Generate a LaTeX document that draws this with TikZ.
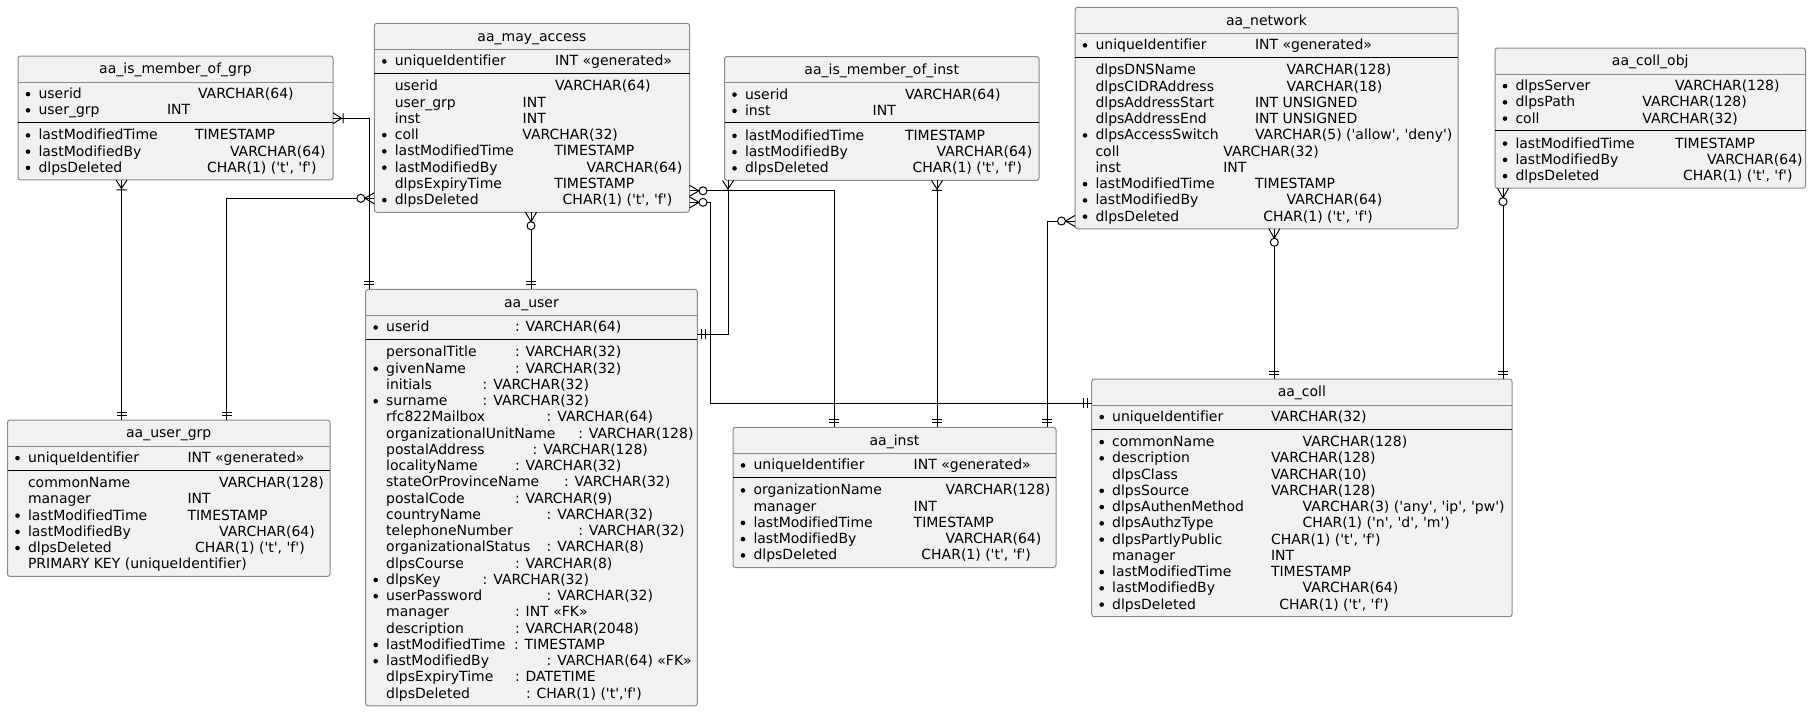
\documentclass[tikz,border=0pt]{standalone}
\usepackage{fontspec}
\newfontfamily\erfont{DejaVu Sans}[Ligatures=NoCommon]
\usetikzlibrary{calc,decorations.markings}

\definecolor{erfill}{HTML}{F1F1F1}
\definecolor{erborder}{HTML}{8A8A8A}

\newcount\errow

% crow's foot end symbols, drawn along the connector (x points away from the table)
\newcommand\erone{\draw[erm] (4.5,-5) -- (4.5,5) (8,-5) -- (8,5);}
\newcommand\ermanyone{\draw[erm] (0,-5.5) -- (8.5,0) -- (0,5.5) (10,-5) -- (10,5);}
\newcommand\ermanyzero{\draw[erm] (0,-5.5) -- (9.5,0) -- (0,5.5);
  \draw[erm,fill=white] (13.5,0) circle[radius=4pt];}

\tikzset{
  tbl/.style={draw=erborder, fill=erfill, rounded corners=2.5pt, line width=1pt,
    inner sep=0pt, outer sep=0pt},
  txt/.style={font=\erfont\fontsize{14}{16}\selectfont, inner sep=0pt, outer sep=0pt,
    anchor=base west},
  hline/.style={draw=erborder, line width=1pt},
  sline/.style={draw=black, line width=1pt},
  conn/.style={draw=black, line width=1pt},
  erm/.style={draw=black, line width=1pt},
  start one/.style={postaction={decorate,decoration={markings,
    mark=at position 0 with {\erone}}}},
  start many1/.style={postaction={decorate,decoration={markings,
    mark=at position 0 with {\ermanyone}}}},
  start many0/.style={postaction={decorate,decoration={markings,
    mark=at position 0 with {\ermanyzero}}}},
  end one/.style={postaction={decorate,decoration={markings,
    mark=at position 1 with {\begin{scope}[xscale=-1]\erone\end{scope}}}}},
}

% table frame: #1 name, #2 title, #3 left, #4 top, #5 right, #6 number of rows
\newcommand\ertable[6]{%
  \pgfmathsetmacro\erw{#5-#3}%
  \pgfmathsetmacro\erh{75.2+(#6-2)*16.25}%
  \node[tbl, anchor=north west, minimum width=\erw pt, minimum height=\erh pt] (#1) at (#3,#4) {};
  \node[txt, anchor=base] (#1-title) at ({(#3+#5)/2},#4+17.8) {#2};
  \draw[hline] (#3,#4+26) -- (#5,#4+26);
  \xdef\ertn{#1}\xdef\erxl{#3}\xdef\erxr{#5}%
  \pgfmathsetmacro\ertmp{#4+42.5}\xdef\ercy{\ertmp}%
  \global\errow=0 }

% field row: #1 mandatory (1/0), #2 name, #3 type offset, #4 type
\newcommand\erf[4]{%
  \global\advance\errow by 1
  \ifnum#1=1 \fill (\erxl+10,\ercy-4.4) circle[radius=2.3pt];\fi
  \node[txt] (\ertn-n\the\errow) at (\erxl+20.5,\ercy) {#2};
  \node[txt] (\ertn-t\the\errow) at (\erxl+#3,\ercy) {#4};
  \pgfmathsetmacro\ertmp{\ercy+16.25}\xdef\ercy{\ertmp}}

% row holding a single text
\newcommand\erx[1]{%
  \global\advance\errow by 1
  \node[txt] (\ertn-n\the\errow) at (\erxl+20.5,\ercy) {#1};
  \pgfmathsetmacro\ertmp{\ercy+16.25}\xdef\ercy{\ertmp}}

% separator between key and non-key fields
\newcommand\ersep{%
  \draw[sline] (\erxl,\ercy-8.65) -- (\erxr,\ercy-8.65);
  \pgfmathsetmacro\ertmp{\ercy+8.75}\xdef\ercy{\ertmp}}

\begin{document}
\begin{tikzpicture}[x=1pt,y=-1pt]
\fill[white] (0,0) rectangle (1815,712);
\useasboundingbox (0,0) rectangle (1815,712);

\ertable{grp}{aa\_is\_member\_of\_grp}{18}{56}{333}{5}
\erf1{userid}{180}{VARCHAR(64)}
\erf1{user\_grp}{149}{INT}
\ersep
\erf1{lastModifiedTime}{177}{TIMESTAMP}
\erf1{lastModifiedBy}{212}{VARCHAR(64)}
\erf1{dlpsDeleted}{189}{CHAR(1) ('t', 'f')}

\ertable{may}{aa\_may\_access}{374.3}{23.3}{689.5}{9}
\erf1{uniqueIdentifier}{180.7}{INT «generated»}
\ersep
\erf0{userid}{180.7}{VARCHAR(64)}
\erf0{user\_grp}{148.4}{INT}
\erf0{inst}{148.4}{INT}
\erf1{coll}{148}{VARCHAR(32)}
\erf1{lastModifiedTime}{180}{TIMESTAMP}
\erf1{lastModifiedBy}{212.4}{VARCHAR(64)}
\erf0{dlpsExpiryTime}{180}{TIMESTAMP}
\erf1{dlpsDeleted}{188.4}{CHAR(1) ('t', 'f')}

\ertable{minst}{aa\_is\_member\_of\_inst}{724.5}{56.5}{1039}{5}
\erf1{userid}{180.5}{VARCHAR(64)}
\erf1{inst}{148.2}{INT}
\ersep
\erf1{lastModifiedTime}{180.5}{TIMESTAMP}
\erf1{lastModifiedBy}{212.2}{VARCHAR(64)}
\erf1{dlpsDeleted}{188}{CHAR(1) ('t', 'f')}

\ertable{net}{aa\_network}{1075}{7.3}{1458}{11}
\erf1{uniqueIdentifier}{180}{INT «generated»}
\ersep
\erf0{dlpsDNSName}{211.7}{VARCHAR(128)}
\erf0{dlpsCIDRAddress}{211.7}{VARCHAR(18)}
\erf0{dlpsAddressStart}{180}{INT UNSIGNED}
\erf0{dlpsAddressEnd}{180}{INT UNSIGNED}
\erf1{dlpsAccessSwitch}{180}{VARCHAR(5) ('allow', 'deny')}
\erf0{coll}{148.3}{VARCHAR(32)}
\erf0{inst}{148.3}{INT}
\erf1{lastModifiedTime}{180}{TIMESTAMP}
\erf1{lastModifiedBy}{211.7}{VARCHAR(64)}
\erf1{dlpsDeleted}{188.3}{CHAR(1) ('t', 'f')}

\ertable{cobj}{aa\_coll\_obj}{1495}{48}{1805.5}{6}
\erf1{dlpsServer}{180}{VARCHAR(128)}
\erf1{dlpsPath}{147.3}{VARCHAR(128)}
\erf1{coll}{147.3}{VARCHAR(32)}
\ersep
\erf1{lastModifiedTime}{180}{TIMESTAMP}
\erf1{lastModifiedBy}{212}{VARCHAR(64)}
\erf1{dlpsDeleted}{188}{CHAR(1) ('t', 'f')}

\ertable{ugrp}{aa\_user\_grp}{7.5}{420}{330}{7}
\erf1{uniqueIdentifier}{180}{INT «generated»}
\ersep
\erf0{commonName}{211.7}{VARCHAR(128)}
\erf0{manager}{180}{INT}
\erf1{lastModifiedTime}{180}{TIMESTAMP}
\erf1{lastModifiedBy}{211.7}{VARCHAR(64)}
\erf1{dlpsDeleted}{187.7}{CHAR(1) ('t', 'f')}
\erx{PRIMARY KEY (uniqueIdentifier)}

\ertable{user}{aa\_user}{365.7}{289.4}{697.3}{23}
\erf1{userid}{149.3}{: VARCHAR(64)}
\ersep
\erf0{personalTitle}{149.3}{: VARCHAR(32)}
\erf1{givenName}{149.3}{: VARCHAR(32)}
\erf0{initials}{117}{: VARCHAR(32)}
\erf1{surname}{117}{: VARCHAR(32)}
\erf0{rfc822Mailbox}{181}{: VARCHAR(64)}
\erf0{organizationalUnitName}{212.6}{: VARCHAR(128)}
\erf0{postalAddress}{167}{: VARCHAR(128)}
\erf0{localityName}{149.3}{: VARCHAR(32)}
\erf0{stateOrProvinceName}{198.3}{: VARCHAR(32)}
\erf0{postalCode}{149.3}{: VARCHAR(9)}
\erf0{countryName}{181}{: VARCHAR(32)}
\erf0{telephoneNumber}{212.6}{: VARCHAR(32)}
\erf0{organizationalStatus}{181}{: VARCHAR(8)}
\erf0{dlpsCourse}{149.3}{: VARCHAR(8)}
\erf1{dlpsKey}{117}{: VARCHAR(32)}
\erf1{userPassword}{181}{: VARCHAR(32)}
\erf0{manager}{149.3}{: INT «FK»}
\erf0{description}{149.3}{: VARCHAR(2048)}
\erf1{lastModifiedTime}{148.3}{: TIMESTAMP}
\erf1{lastModifiedBy}{181}{: VARCHAR(64) «FK»}
\erf0{dlpsExpiryTime}{149.3}{: DATETIME}
\erf0{dlpsDeleted}{160.3}{: CHAR(1) ('t','f')}

\ertable{inst}{aa\_inst}{733}{427.3}{1056}{6}
\erf1{uniqueIdentifier}{180.7}{INT «generated»}
\ersep
\erf1{organizationName}{212.7}{VARCHAR(128)}
\erf0{manager}{180.7}{INT}
\erf1{lastModifiedTime}{180.7}{TIMESTAMP}
\erf1{lastModifiedBy}{212.7}{VARCHAR(64)}
\erf1{dlpsDeleted}{188.4}{CHAR(1) ('t', 'f')}

\ertable{coll}{aa\_coll}{1091.7}{379}{1512}{12}
\erf1{uniqueIdentifier}{179.3}{VARCHAR(32)}
\ersep
\erf1{commonName}{211}{VARCHAR(128)}
\erf1{description}{179.3}{VARCHAR(128)}
\erf0{dlpsClass}{179.3}{VARCHAR(10)}
\erf1{dlpsSource}{179.3}{VARCHAR(128)}
\erf1{dlpsAuthenMethod}{211}{VARCHAR(3) ('any', 'ip', 'pw')}
\erf1{dlpsAuthzType}{211}{CHAR(1) ('n', 'd', 'm')}
\erf1{dlpsPartlyPublic}{179.3}{CHAR(1) ('t', 'f')}
\erf0{manager}{179.3}{INT}
\erf1{lastModifiedTime}{179.3}{TIMESTAMP}
\erf1{lastModifiedBy}{211}{VARCHAR(64)}
\erf1{dlpsDeleted}{187.6}{CHAR(1) ('t', 'f')}

% relationships
\draw[conn, start many1, end one] ($(grp.south west)+(103.5,0)$) -- ($(ugrp.north west)+(114,0)$);
\draw[conn, start many1, end one] ($(grp.north east)+(0,62.3)$) -| ($(user.north west)+(3.3,0)$);
\draw[conn, start many0, end one] ($(may.north west)+(0,175)$) -| ($(ugrp.north west)+(219,0)$);
\draw[conn, start many0, end one] ($(may.south west)+(156.7,0)$) -- ($(user.north west)+(165.3,0)$);
\draw[conn, start many0, end one] ($(may.north east)+(0,167.5)$) -| ($(inst.north west)+(101,0)$);
\draw[conn, start many0, end one] ($(may.north east)+(0,179)$) -- ++(20.5,0) |- ($(coll.north west)+(0,24.3)$);
\draw[conn, start many1, end one] ($(minst.south west)+(3.5,0)$) |- ($(user.north east)+(0,45)$);
\draw[conn, start many1, end one] ($(minst.south west)+(212.5,0)$) -- ($(inst.north west)+(204,0)$);
\draw[conn, start many0, end one] ($(net.north west)+(0,213.7)$) -| ($(inst.north west)+(314,0)$);
\draw[conn, start many0, end one] ($(net.south west)+(199.3,0)$) -- ($(coll.north west)+(182.6,0)$);
\draw[conn, start many0, end one] ($(cobj.south west)+(8,0)$) -- ($(coll.north west)+(411.3,0)$);
\end{tikzpicture}
\end{document}
